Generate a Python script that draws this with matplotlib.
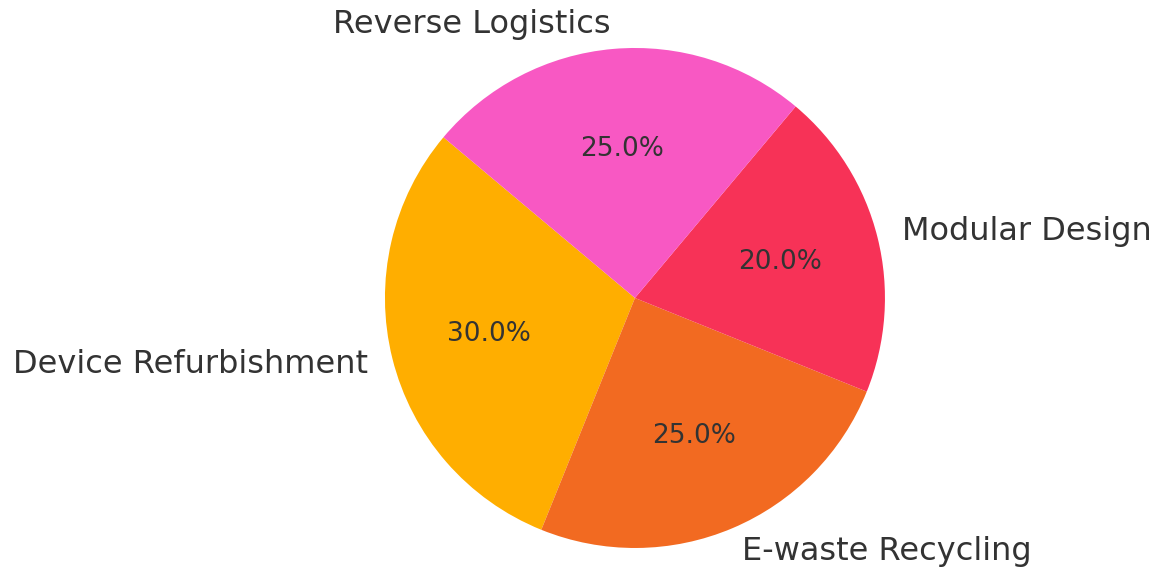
import matplotlib
matplotlib.use("Agg")
import matplotlib.pyplot as plt

# Data
Labels = ["Device Refurbishment", "E-waste Recycling", "Modular Design", "Reverse Logistics"]
Shares = [30, 25, 20, 25]
Colors = ["#FFAE00", "#F26A21", "#F73257", "#F858C3"]

Text_Color = "#333333"

Fig = plt.figure(figsize=(11.57, 5.69), dpi=100)

# square axes, 250 px per unit radius, pie centre at (635, 298) px
ax = Fig.add_axes([0.2787, -0.0729, 625 / 1157, 625 / 569])

Wedges, Texts, AutoTexts = ax.pie(Shares,
                                  labels=Labels,
                                  colors=Colors,
                                  autopct="%1.1f%%",
                                  startangle=140,
                                  labeldistance=1.1,
                                  pctdistance=0.6,
                                  textprops={"color": Text_Color})

for t in Texts:
    t.set_fontsize(23)
for t in AutoTexts:
    t.set_fontsize(19)

ax.set_xlim(-1.25, 1.25)
ax.set_ylim(-1.25, 1.25)
ax.set_aspect("equal")

Fig.savefig("out.png", dpi=100)
